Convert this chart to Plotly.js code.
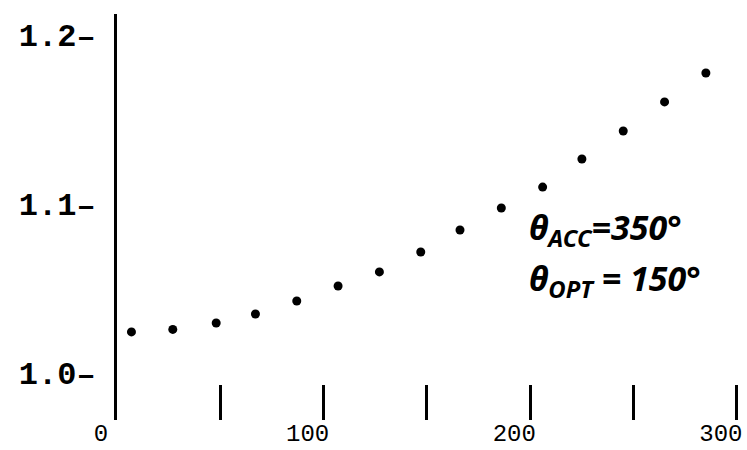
<!DOCTYPE html>
<html>
<head>
<meta charset="utf-8">
<script src="https://cdn.plot.ly/plotly-3.0.1.min.js"></script>
<style>
  html, body { margin: 0; padding: 0; background: #fff; }
  #chart { width: 747px; height: 450px; }
</style>
</head>
<body>
<div id="chart"></div>
<script>
// Measured points: ratio versus offset
const xValues = [7, 27, 48, 67, 87, 107, 127, 147, 166, 186, 206, 225, 245, 265, 285];
const yValues = [1.0243, 1.0258, 1.0296, 1.0349, 1.0426, 1.0515, 1.0598, 1.0716,
                 1.0846, 1.0976, 1.1100, 1.1266, 1.1432, 1.1604, 1.1775];

// Axis ticks
const xTickVals = [0, 50, 100, 150, 200, 250, 300];
const xTickText = ['0', '', '100', '', '200', '', '300'];
const yTickVals = [1.0, 1.1, 1.2];
const yTickText = ['1.0\u2013', '1.1\u2013', '1.2\u2013'];

const trace = {
  x: xValues,
  y: yValues,
  type: 'scatter',
  mode: 'markers',
  marker: { color: '#000', size: 9 },
  hoverinfo: 'skip'
};

const layout = {
  width: 747,
  height: 450,
  margin: { l: 117, r: 0, t: 14, b: 30 },
  paper_bgcolor: '#fff',
  plot_bgcolor: '#fff',
  showlegend: false,
  xaxis: {
    range: [0, 304.9],
    tickvals: xTickVals,
    ticktext: xTickText,
    ticks: 'inside',
    ticklen: 35,
    tickwidth: 3,
    tickcolor: '#000',
    showline: false,
    showgrid: false,
    zeroline: false,
    ticklabelstandoff: -4,
    ticklabelshift: -16,
    ticklabeloverflow: 'allow',
    tickfont: { family: 'Liberation Mono', size: 24, color: '#000' }
  },
  yaxis: {
    range: [0.9722, 1.2124],
    tickvals: yTickVals,
    ticktext: yTickText,
    ticks: '',
    showline: true,
    linewidth: 3,
    linecolor: '#000',
    showgrid: false,
    zeroline: false,
    ticklabelstandoff: 12,
    tickfont: { family: 'Liberation Mono', size: 32, color: '#000', weight: 'bold' }
  },
  annotations: [
    {
      xref: 'paper', yref: 'paper',
      x: 0.65, y: 0.47, xanchor: 'left', yanchor: 'middle',
      text: '\u03B8<sub>ACC</sub>=350\u00B0',
      showarrow: false,
      font: { family: 'Noto Sans', size: 34, color: '#000', style: 'italic', weight: 'bold' }
    },
    {
      xref: 'paper', yref: 'paper',
      x: 0.65, y: 0.345, xanchor: 'left', yanchor: 'middle',
      text: '\u03B8<sub>OPT</sub> = 150\u00B0',
      showarrow: false,
      font: { family: 'Noto Sans', size: 34, color: '#000', style: 'italic', weight: 'bold' }
    }
  ]
};

Plotly.newPlot('chart', [trace], layout, { displayModeBar: false, staticPlot: true });
</script>
</body>
</html>
